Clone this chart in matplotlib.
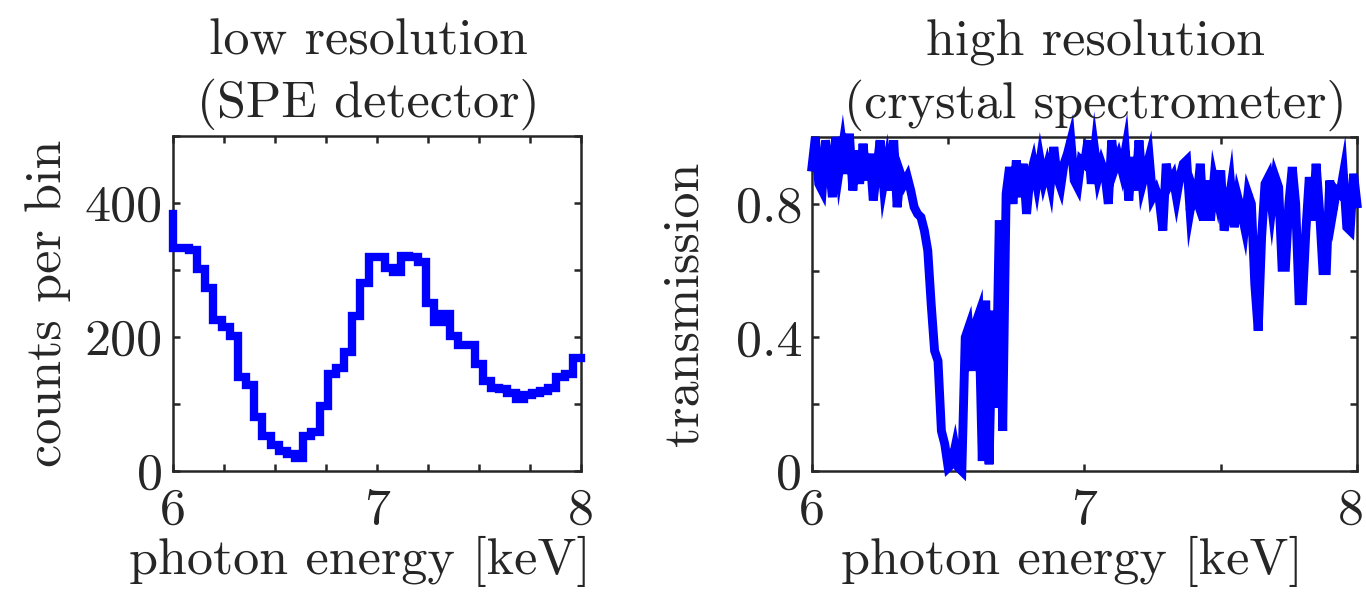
import numpy as np
import matplotlib.pyplot as plt
import matplotlib.transforms as mtransforms

plt.rcParams['font.family'] = 'serif'
plt.rcParams['font.serif'] = ['cmr10', 'DejaVu Serif']
plt.rcParams['axes.formatter.use_mathtext'] = True
plt.rcParams['mathtext.fontset'] = 'cm'

txt_col = '#262626'
line_col = (0, 0, 1)
fs = 37.5

# low resolution spectrum: counts in 0.04 keV bins starting at 6.00 keV
bin_width = 0.04
count_below = 383  # bin just below 6 keV (only its right edge is visible)
spe_counts = [333, 333, 330, 301, 273, 226, 215, 202, 141, 129,
              81, 52, 39, 30, 25, 19, 52, 58, 97, 145,
              153, 177, 232, 281, 319, 319, 303, 297, 321, 320,
              312, 251, 222, 234, 201, 188, 188, 159, 134, 124,
              122, 117, 108, 113, 117, 120, 124, 140, 145, 169]

# high resolution transmission, sampled every 0.0125 keV from 6.00 to 8.00 keV
e_step = 0.0125
trans = [
    0.91, 1.00, 0.86, 0.84, 0.99, 0.92, 0.82, 1.00, 0.90, 0.97, 0.89, 1.01, 0.84, 0.96, 0.86, 0.98,
    0.87, 0.95, 0.81, 0.90, 0.99, 0.86, 0.92, 0.84, 0.99, 0.79, 0.89, 0.86, 0.88, 0.84, 0.79, 0.77,
    0.76, 0.72, 0.66, 0.50, 0.36, 0.33, 0.12, 0.08, 0.01, 0.02, 0.07, 0.01, 0.00, 0.40, 0.43, 0.30,
    0.44, 0.47, 0.03, 0.51, 0.02, 0.48, 0.19, 0.75, 0.12, 0.83, 0.91, 0.80, 0.93, 0.82, 0.92, 0.77,
    0.88, 0.92, 0.86, 0.93, 0.87, 0.91, 0.86, 0.97, 0.88, 0.85, 0.92, 0.95, 0.99, 0.87, 0.85, 0.93,
    0.92, 0.99, 0.86, 0.96, 0.88, 0.92, 0.89, 0.80, 0.99, 0.91, 0.94, 0.90, 0.96, 0.81, 0.94, 0.84,
    0.99, 0.86, 0.90, 0.94, 0.82, 0.84, 0.81, 0.72, 0.92, 0.86, 0.88, 0.82, 0.88, 0.92, 0.93, 0.78,
    0.84, 0.81, 0.92, 0.75, 0.87, 0.75, 0.87, 0.82, 0.90, 0.72, 0.78, 0.85, 0.73, 0.82, 0.78, 0.73,
    0.83, 0.80, 0.56, 0.42, 0.70, 0.86, 0.88, 0.79, 0.88, 0.85, 0.61, 0.61, 0.80, 0.91, 0.80, 0.51,
    0.51, 0.72, 0.88, 0.75, 0.92, 0.78, 0.60, 0.60, 0.87, 0.78, 0.84, 0.83, 0.89, 0.73, 0.72, 0.89,
    0.80,
]

edges = 6.0 + bin_width * np.arange(len(spe_counts) + 1)
energy = 6.0 + e_step * np.arange(len(trans))

fig = plt.figure(figsize=(13.66, 5.93), dpi=100)
ax1 = fig.add_axes([0.1263, 0.2057, 0.2990, 0.5650])
ax2 = fig.add_axes([0.5944, 0.2057, 0.3990, 0.5632])

ax1.plot(edges, [count_below] + spe_counts, drawstyle='steps-pre', color=line_col,
         lw=6.0, solid_joinstyle='miter', solid_capstyle='projecting', clip_on=False, zorder=3)
ax1.set_xlim(6, 8)
ax1.set_ylim(0, 500)
ax1.set_xticks(np.arange(6, 8.01, 0.25))
ax1.set_xticklabels(['6', '', '', '', '7', '', '', '', '8'])
ax1.set_yticks(np.arange(0, 501, 100))
ax1.set_yticklabels(['0', '', '200', '', '400', ''])
ax1.set_xlabel('photon energy [keV]', fontsize=fs, color=txt_col, labelpad=2, x=0.459)
ax1.set_ylabel('counts per bin', fontsize=fs, color=txt_col, labelpad=10)
ax1.set_title('low resolution\n(SPE detector)', fontsize=fs, color=txt_col, pad=14,
              linespacing=1.35, x=0.48)

ax2.plot(energy, trans, color=line_col, lw=6.4, solid_joinstyle='miter', clip_on=False, zorder=3)
ax2.set_xlim(6, 8)
ax2.set_ylim(0, 1)
ax2.set_xticks(np.arange(6, 8.01, 0.5))
ax2.set_xticklabels(['6', '', '7', '', '8'])
ax2.set_yticks(np.arange(0, 1.01, 0.2))
ax2.set_yticklabels(['0', '', '0.4', '', '0.8', ''])
ax2.set_xlabel('photon energy [keV]', fontsize=fs, color=txt_col, labelpad=2, x=0.477)
ax2.set_ylabel('transmission', fontsize=fs, color=txt_col, labelpad=20)
ax2.set_title('high resolution\n(crystal spectrometer)', fontsize=fs, color=txt_col, pad=14,
              linespacing=1.35, x=0.52)

for ax in (ax1, ax2):
    for sp in ax.spines.values():
        sp.set_linewidth(1.8)
        sp.set_color(txt_col)
        sp.set_zorder(2)
    ax.tick_params(direction='in', length=5, width=1.8, colors=txt_col, labelsize=fs,
                   top=True, right=True)
    ax.tick_params(axis='x', pad=12)
    ax.tick_params(axis='y', pad=7)

# keep the last label of the right panel inside the figure
last = ax2.get_xticklabels()[-1]
last.set_transform(last.get_transform() + mtransforms.ScaledTranslation(-6 / 100, 0, fig.dpi_scale_trans))

fig.savefig('out.png', dpi=100)
